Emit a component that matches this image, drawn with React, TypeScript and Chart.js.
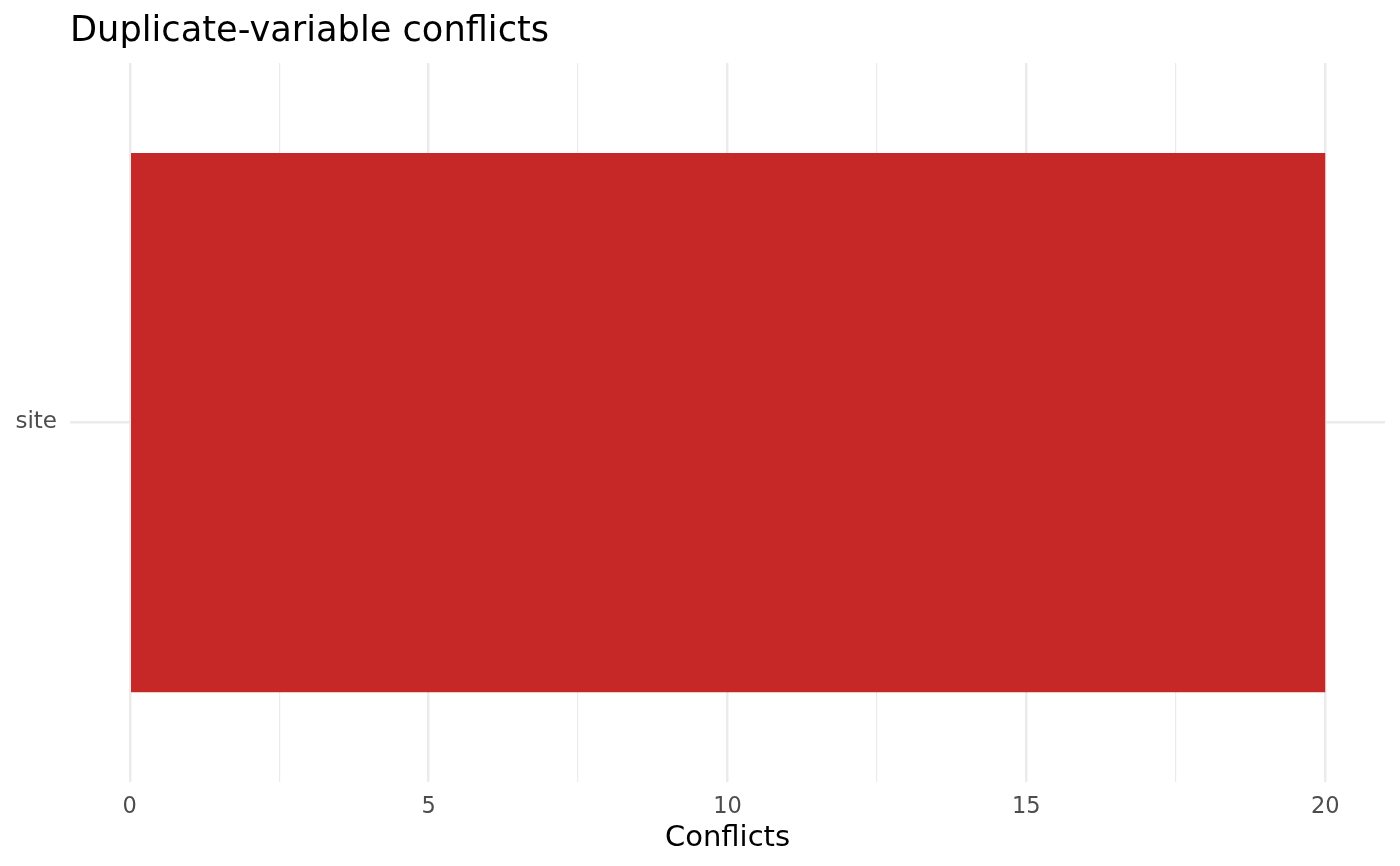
import React, { useEffect, useRef } from 'react';
import { Chart, registerables } from 'chart.js';

Chart.register(...registerables);

const categories: string[] = ['site'];
const conflicts: number[] = [20];
const xTickValues: number[] = [0, 2.5, 5, 7.5, 10, 12.5, 15, 17.5, 20];
const xLabelStep = 5;
const xMin = -1;
const xMax = 21;
const titleText = 'Duplicate-variable conflicts';
const xAxisTitle = 'Conflicts';

const FONT = '"DejaVu Sans", "Liberation Sans", sans-serif';

const titlePlugin = {
  id: 'ggTitle',
  afterDraw(chart: any) {
    const ctx = chart.ctx as CanvasRenderingContext2D;
    ctx.save();
    ctx.font = `35.2px ${FONT}`;
    ctx.fillStyle = '#000000';
    ctx.textAlign = 'left';
    ctx.textBaseline = 'alphabetic';
    ctx.fillText(titleText, chart.chartArea.left, 41);
    ctx.restore();
  },
};

export default function App() {
  const canvasRef = useRef<HTMLCanvasElement | null>(null);

  useEffect(() => {
    if (!canvasRef.current) return;
    const chart = new Chart(canvasRef.current, {
      type: 'bar',
      data: {
        labels: categories,
        datasets: [
          {
            data: conflicts,
            backgroundColor: '#C62828',
            borderWidth: 0,
            categoryPercentage: 1,
            barPercentage: 0.75,
          },
        ],
      },
      options: {
        indexAxis: 'y',
        animation: false,
        responsive: false,
        devicePixelRatio: 1,
        layout: { padding: { left: 0, right: 15, top: 63, bottom: 0 } },
        plugins: {
          legend: { display: false },
          tooltip: { enabled: false },
          title: { display: false },
        },
        scales: {
          x: {
            type: 'linear',
            min: xMin,
            max: xMax,
            afterBuildTicks: (scale: any) => {
              scale.ticks = xTickValues.map((v) => ({ value: v }));
            },
            ticks: {
              autoSkip: false,
              maxRotation: 0,
              padding: 12,
              color: '#4D4D4D',
              font: { family: FONT, size: 22.5 },
              callback: (v: any) => (Number(v) % xLabelStep === 0 ? String(v) : ''),
            },
            grid: {
              color: '#EBEBEB',
              drawTicks: false,
              lineWidth: (ctx: any) =>
                ctx.tick && Number(ctx.tick.value) % xLabelStep === 0 ? 2.5 : 1.2,
            },
            border: { display: false },
            title: {
              display: true,
              text: xAxisTitle,
              color: '#000000',
              font: { family: FONT, size: 29 },
              padding: { top: 0, bottom: 10 },
            },
            afterFit: (scale: any) => {
              scale.height = 84;
            },
          },
          y: {
            type: 'category',
            offset: true,
            grid: {
              offset: false,
              color: '#EBEBEB',
              lineWidth: 2.5,
              drawTicks: false,
            },
            border: { display: false },
            ticks: {
              padding: 13,
              color: '#4D4D4D',
              font: { family: FONT, size: 23 },
            },
            afterFit: (scale: any) => {
              scale.width = 70;
            },
          },
        },
      },
      plugins: [titlePlugin],
    } as any);
    return () => chart.destroy();
  }, []);

  return (
    <div style={{ position: 'absolute', left: 0, top: 0, width: 1400, height: 866, background: '#ffffff' }}>
      <canvas ref={canvasRef} width={1400} height={866} style={{ display: 'block', width: 1400, height: 866 }} />
    </div>
  );
}
